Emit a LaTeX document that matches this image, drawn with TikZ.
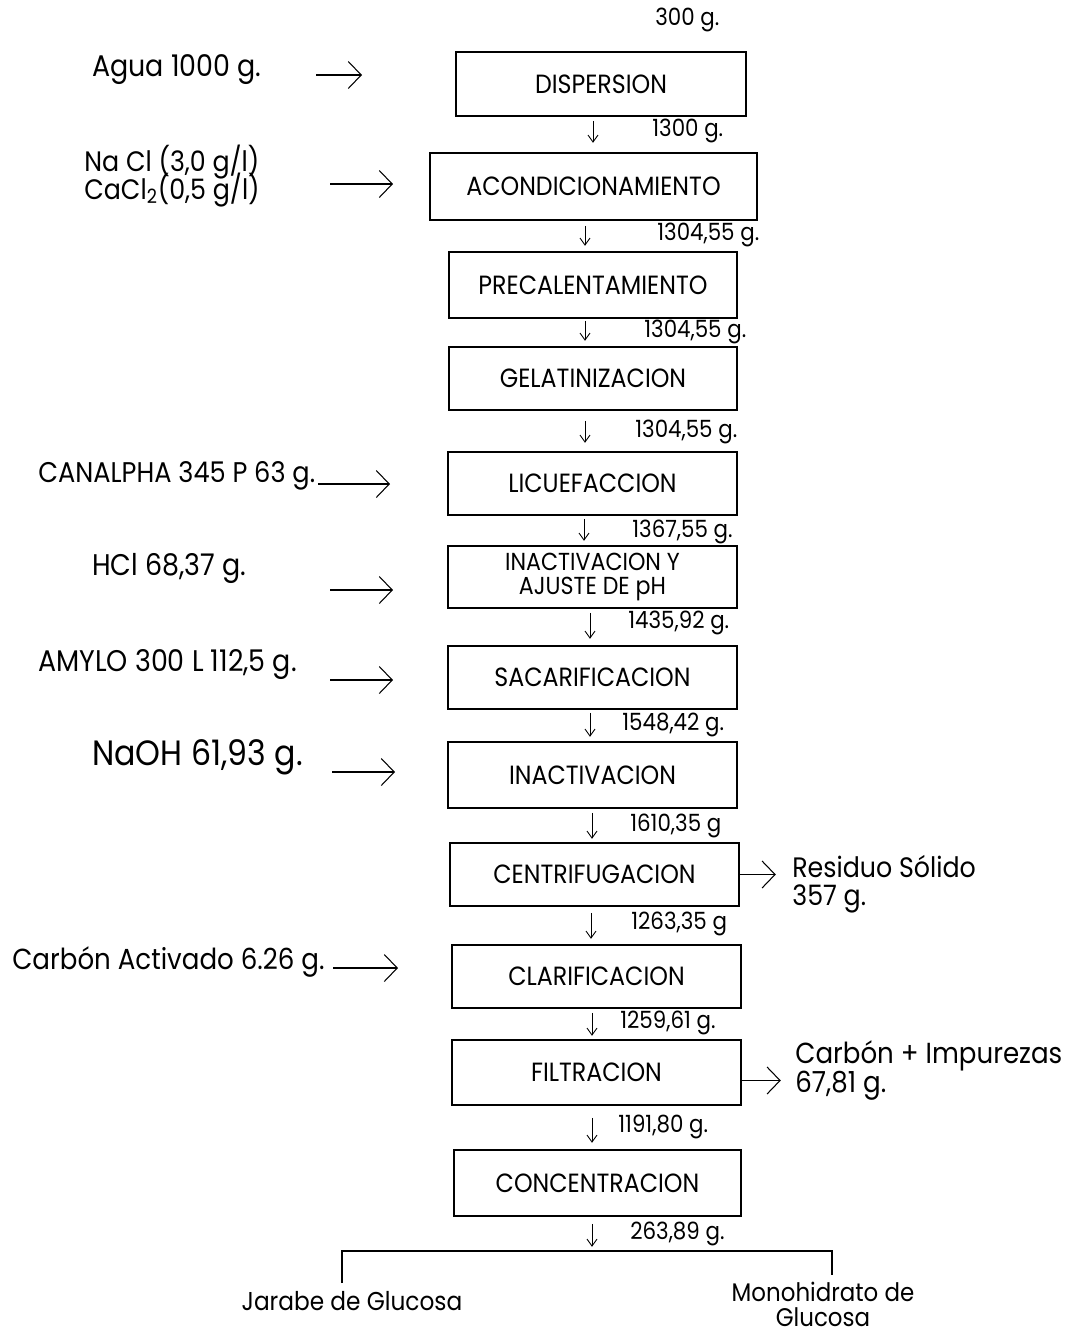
\documentclass[tikz,border=0pt]{standalone}
\usepackage{fontspec}
\setmainfont{Poppins}[FakeStretch=0.9]
\usetikzlibrary{arrows.meta}
\newcommand\tightlines{\lineskiplimit=-20pt\relax}

\begin{document}
\begin{tikzpicture}[
		box/.style={draw, line width=0.9pt, minimum width=5.78cm, minimum height=1.26cm, align=center, font={\fontsize{15}{15}\selectfont}},
		wt/.style={anchor=west, inner sep=0pt, font={\fontsize{13.5}{15}\selectfont}},
		feedtxt/.style={anchor=west, inner sep=0pt, align=left, font={\fontsize{17}{14}\selectfont\tightlines}},
		feed/.style={line width=0.6pt, -{Straight Barb[length=2.6mm,width=5.4mm]}},
		down/.style={line width=0.5pt, -{Straight Barb[length=1.4mm,width=2mm]}}]
		\useasboundingbox (0,0) rectangle (21.38,-26.72);
		
		% Process steps
		\node[box, minimum width=5.8cm, minimum height=1.28cm] (disp) at (12.02,-1.68) {DISPERSION};
		\node[box, minimum width=6.54cm, minimum height=1.34cm] (acon) at (11.87,-3.73) {ACONDICIONAMIENTO};
		\node[box, minimum width=5.76cm, minimum height=1.32cm] (prec) at (11.86,-5.70) {PRECALENTAMIENTO};
		\node[box, minimum width=5.76cm] (gela) at (11.86,-7.57) {GELATINIZACION};
		\node[box] (licu) at (11.85,-9.67) {LICUEFACCION};
		\node[box, minimum height=1.24cm, inner sep=1pt, font={\fontsize{14}{13.7}\selectfont\tightlines}] (inac1) at (11.85,-11.54) {INACTIVACION Y\\AJUSTE DE pH};
		\node[box] (saca) at (11.85,-13.55) {SACARIFICACION};
		\node[box, minimum height=1.32cm] (inac2) at (11.85,-15.50) {INACTIVACION};
		\node[box] (cent) at (11.89,-17.49) {CENTRIFUGACION};
		\node[box] (clar) at (11.93,-19.53) {CLARIFICACION};
		\node[box, minimum height=1.30cm] (filt) at (11.93,-21.45) {FILTRACION};
		\node[box, minimum width=5.74cm, minimum height=1.32cm] (conc) at (11.95,-23.66) {CONCENTRACION};
		
		% Flow down with masses
		\node[wt] (w0) at (13.10,-0.40) {300 g.};
		\draw[down] (11.86,0 |- disp.south) ++(0,-0.08) -- ++(0,-0.44);
		\node[wt] (w1) at (13.04,-2.62) {1300 g.};
		\draw[down] (11.70,0 |- acon.south) ++(0,-0.10) -- ++(0,-0.40);
		\node[wt] (w2) at (13.14,-4.70) {1304,55 g.};
		\draw[down] (11.70,0 |- prec.south) ++(0,-0.04) -- ++(0,-0.40);
		\node[wt] (w3) at (12.88,-6.64) {1304,55 g.};
		\draw[down] (11.70,0 |- gela.south) ++(0,-0.20) -- ++(0,-0.44);
		\node[wt] (w4) at (12.70,-8.64) {1304,55 g.};
		\draw[down] (11.68,0 |- licu.south) ++(0,-0.06) -- ++(0,-0.44);
		\node[wt] (w5) at (12.64,-10.64) {1367,55 g.};
		\draw[down] (11.80,0 |- inac1.south) ++(0,-0.08) -- ++(0,-0.52);
		\node[wt] (w6) at (12.56,-12.46) {1435,92 g.};
		\draw[down] (11.80,0 |- saca.south) ++(0,-0.06) -- ++(0,-0.48);
		\node[wt] (w7) at (12.44,-14.50) {1548,42 g.};
		\draw[down] (11.84,0 |- inac2.south) ++(0,-0.08) -- ++(0,-0.52);
		\node[wt] (w8) at (12.60,-16.52) {1610,35 g};
		\draw[down] (11.82,0 |- cent.south) ++(0,-0.12) -- ++(0,-0.52);
		\node[wt] (w9) at (12.62,-18.48) {1263,35 g};
		\draw[down] (11.84,0 |- clar.south) ++(0,-0.08) -- ++(0,-0.46);
		\node[wt] (w10) at (12.40,-20.46) {1259,61 g.};
		\draw[down] (11.84,0 |- filt.south) ++(0,-0.24) -- ++(0,-0.50);
		\node[wt] (w11) at (12.36,-22.54) {1191,80 g.};
		\draw[down] (11.84,0 |- conc.south) ++(0,-0.14) -- ++(0,-0.46);
		\node[wt] (w12) at (12.60,-24.68) {263,89 g.};
		
		% Inputs
		\node[feedtxt] (agua) at (1.84,-1.40) {Agua 1000 g.};
		\coordinate (f1) at (6.32,-1.50);
		\draw[feed] (f1) -- ++(0.92,0);
		\node[feedtxt, font={\fontsize{16}{15.5}\selectfont\tightlines}] (sal) at (1.68,-3.52) {Na Cl (3,0 g/l)\\CaCl\textsubscript{2}(0,5 g/l)};
		\coordinate (f2) at (6.60,-3.68);
		\draw[feed] (f2) -- ++(1.26,0);
		\node[feedtxt, font={\fontsize{16.2}{16}\selectfont}] (canal) at (0.76,-9.52) {CANALPHA 345 P 63 g.};
		\coordinate (f3) at (6.36,-9.68);
		\draw[feed] (f3) -- ++(1.44,0);
		\node[feedtxt] (hcl) at (1.84,-11.36) {HCl 68,37 g.};
		\coordinate (f4) at (6.60,-11.80);
		\draw[feed] (f4) -- ++(1.26,0);
		\node[feedtxt] (amylo) at (0.76,-13.30) {AMYLO 300 L 112,5 g.};
		\coordinate (f5) at (6.60,-13.60);
		\draw[feed] (f5) -- ++(1.26,0);
		\node[feedtxt, font={\fontsize{20}{20}\selectfont}] (naoh) at (1.84,-15.14) {NaOH 61,93 g.};
		\coordinate (f6) at (6.64,-15.44);
		\draw[feed] (f6) -- ++(1.26,0);
		\node[feedtxt, font={\fontsize{16.5}{16}\selectfont}] (carb) at (0.24,-19.24) {Carbón Activado 6.26 g.};
		\coordinate (f7) at (6.66,-19.36);
		\draw[feed] (f7) -- ++(1.30,0);
		
		% Outputs
		\node[feedtxt, font={\fontsize{16}{16}\selectfont}] (res) at (15.84,-17.68) {Residuo Sólido\\357 g.};
		\draw[feed] (cent.east) -- ++(0.72,0);
		\node[feedtxt, font={\fontsize{16.5}{16.5}\selectfont}] (imp) at (15.90,-21.40) {Carbón + Impurezas\\67,81 g.};
		\draw[feed] (filt.east) ++(0,-0.16) -- ++(0.78,0);
		
		% Products
		\coordinate (split) at (11.84,-25.02);
		\node[font={\fontsize{14.7}{13}\selectfont}, anchor=north, inner sep=0pt, outer ysep=5pt] (jar) at (7.04,-25.66) {Jarabe de Glucosa};
		\node[font={\fontsize{14.5}{14.5}\selectfont}, anchor=north, align=center, inner sep=0pt, outer ysep=4pt] (mono) at (16.46,-25.50) {Monohidrato de\\Glucosa};
		\draw[line width=0.6pt] (6.84,0 |- jar.north) |- (split) -| (16.64,0 |- mono.north);
	\end{tikzpicture}
\end{document}
